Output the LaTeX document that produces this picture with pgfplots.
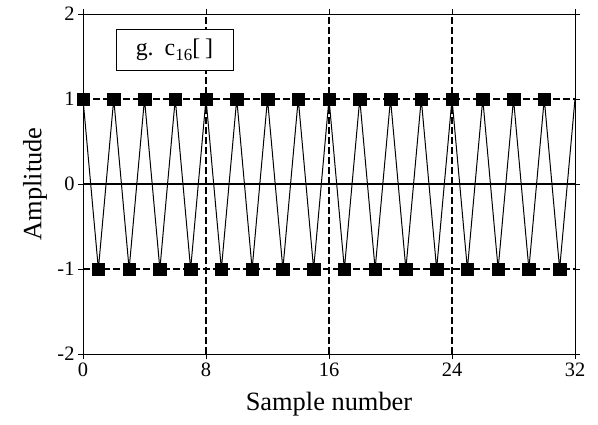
\documentclass[border=0pt]{standalone}
\usepackage{fontspec}
\setmainfont{Liberation Serif}
\usepackage{pgfplots}
\pgfplotsset{compat=1.18}
\usepackage{pgfplotstable}

% c16[n]: cosine with 16 cycles over 32 samples, i.e. alternating +1/-1
\pgfplotstableread{
n v
0 1
1 -1
2 1
3 -1
4 1
5 -1
6 1
7 -1
8 1
9 -1
10 1
11 -1
12 1
13 -1
14 1
15 -1
16 1
17 -1
18 1
19 -1
20 1
21 -1
22 1
23 -1
24 1
25 -1
26 1
27 -1
28 1
29 -1
30 1
31 -1
32 1
}\cdata

\tikzset{refline/.style={line width=2.4bp, dash pattern=on 7bp off 3bp}}

\begin{document}
\begin{tikzpicture}[x=1bp,y=1bp]
\useasboundingbox (-83,-70) rectangle (515,354);
\begin{axis}[
  at={(0,0)}, anchor=south west,
  scale only axis, width=492bp, height=340bp,
  xmin=0, xmax=32, ymin=-2, ymax=2,
  xtick={0,8,16,24,32}, ytick={-2,-1,0,1,2},
  tick align=outside, major tick length=5bp,
  tick style={black, line width=0.9bp},
  axis line style={line width=0.9bp},
  ticklabel style={font=\fontsize{20.5}{20.5}\selectfont},
  /pgf/number format/assume math mode=true,
  xlabel={Sample number}, ylabel={Amplitude},
  label style={font=\fontsize{26.5}{26.5}\selectfont},
  xlabel style={at={(axis description cs:0.5,-0.147)}, anchor=center},
  ylabel style={at={(axis description cs:-0.0976,0.5)}, anchor=center},
  clip=false,
]
  % reference lines
  \draw[refline] (axis cs:8,-2) -- (axis cs:8,2);
  \draw[refline] (axis cs:16,-2) -- (axis cs:16,2);
  \draw[refline] (axis cs:24,-2) -- (axis cs:24,2);
  \draw[refline] (axis cs:0,1) -- (axis cs:32,1);
  \draw[refline] (axis cs:0,-1) -- (axis cs:32,-1);
  \draw[line width=2.2bp] (axis cs:0,0) -- (axis cs:32,0);
  % signal
  \addplot[black, line width=1bp, no marks] table[x=n, y=v] {\cdata};
  \addplot[only marks, mark=square*, mark size=6.3bp, black,
           restrict x to domain=0:31] table[x=n, y=v] {\cdata};
  % panel label
  \node[draw, fill=white, line width=0.9bp, minimum width=117bp, minimum height=41bp,
        font=\fontsize{24}{24}\selectfont] at (axis cs:5.95,1.58)
        {g.\hspace{11bp}c\raisebox{-5bp}{\fontsize{17}{17}\selectfont 16}[\hspace{5bp}]};
\end{axis}
\end{tikzpicture}
\end{document}
